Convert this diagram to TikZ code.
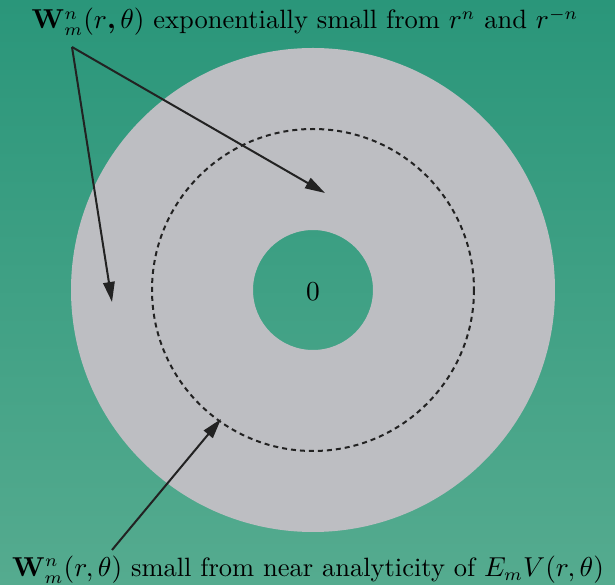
\documentclass[tikz,border=0pt]{standalone}
\usepackage{amsmath,bm}
\usetikzlibrary{arrows.meta}
\definecolor{bgtop}{HTML}{2A967A}
\definecolor{bgbot}{HTML}{55AB8F}
\definecolor{ring}{HTML}{BDBEC2}
\definecolor{ink}{HTML}{222222}
\begin{document}
\begin{tikzpicture}[x=0.4pt,y=-0.4pt,
  pointer/.style={draw=ink,line width=0.8pt,-{Triangle[length=8pt,width=4.6pt]}},
  label/.style={inner sep=0pt,font=\fontsize{10.6}{12}\selectfont}]
\shade[top color=bgtop,bottom color=bgbot] (0,0) rectangle (615,585);
\useasboundingbox (0,0) rectangle (615,585);
\fill[ring,even odd rule] (313,290) circle[radius=242] (313,290) circle[radius=60];
\draw[ink,line width=0.8pt,dash pattern=on 2pt off 1.6pt] (313,290) circle[radius=161];
\node[label] (zero) at (313,292) {$0$};
\node[label] (top) at (305,22) {$\mathbf{W}_m^n(r\bm{,}\theta)$ exponentially small from $r^n$ and $r^{-n}$};
\node[label] (bot) at (308,570) {$\mathbf{W}_m^n(r,\theta)$ small from near analyticity of $E_mV(r,\theta)$};
\coordinate (apex) at (72,47);
\coordinate (t1) at (325,193);
\coordinate (t2) at (112,302);
\coordinate (bs) at (112,550);
\coordinate (t3) at (221,419);
\draw[pointer] (apex) -- (t1);
\draw[pointer] (apex) -- (t2);
\draw[pointer] (bs) -- (t3);
\end{tikzpicture}
\end{document}
